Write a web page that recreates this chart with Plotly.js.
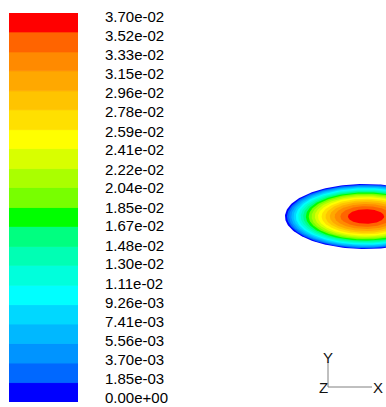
<!DOCTYPE html>
<html><head><meta charset="utf-8">
<script src="https://cdn.plot.ly/plotly-3.0.1.min.js"></script>
<style>html,body{margin:0;padding:0;background:#fff;overflow:hidden}#chart{width:386px;height:407px}</style>
</head><body><div id="chart"></div>
<script>
// contour levels (bottom -> top) and their labels
const levels = [0, 0.00185, 0.0037, 0.00556, 0.00741, 0.00926, 0.0111, 0.0130, 0.0148, 0.0167,
                0.0185, 0.0204, 0.0222, 0.0241, 0.0259, 0.0278, 0.0296, 0.0315, 0.0333, 0.0352, 0.0370];
const tickLabels = ['0.00e+00','1.85e-03','3.70e-03','5.56e-03','7.41e-03','9.26e-03','1.11e-02',
                    '1.30e-02','1.48e-02','1.67e-02','1.85e-02','2.04e-02','2.22e-02','2.41e-02',
                    '2.59e-02','2.78e-02','2.96e-02','3.15e-02','3.33e-02','3.52e-02','3.70e-02'];
// band colours (band k spans levels[k]..levels[k+1])
const bandColors = ['#0000ff','#0068ff','#0094ff','#00b8ff','#00d8ff','#00ffff','#00ffdc','#00ffb4',
                    '#00ff80','#00ff00','#78ff00','#aaff00','#d8ff00','#ffff00','#ffe000','#ffc400',
                    '#ffa800','#ff8a00','#ff6400','#ff0000'];
// normalized distance from the centre of the section at which each level is reached
const levelRadius = [1.00, 0.975, 0.949, 0.922, 0.894, 0.866, 0.837, 0.806, 0.775, 0.742,
                     0.707, 0.671, 0.632, 0.592, 0.548, 0.500, 0.447, 0.387, 0.316, 0.224];

const W = 386, H = 407;
const px = v => v / W, py = v => 1 - v / H;

const traces = [];
// colour legend bar
traces.push({
  type: 'bar', xaxis: 'x', yaxis: 'y',
  x: bandColors.map(() => 0),
  base: levels.slice(0, -1),
  y: levels.slice(1).map((v, i) => v - levels[i]),
  width: 1,
  marker: {color: bandColors, line: {width: 0.8, color: bandColors}},
  hoverinfo: 'skip', showlegend: false
});
// label axis carrier
traces.push({type: 'scatter', mode: 'markers', xaxis: 'x', yaxis: 'y2', x: [], y: [], showlegend: false, hoverinfo: 'skip'});
// contour bands as nested filled ellipses
const N = 240;
levelRadius.forEach((r, k) => {
  const xs = [], ys = [];
  for (let i = 0; i <= N; i++) {
    const t = 2 * Math.PI * i / N;
    xs.push(r * Math.cos(t)); ys.push(r * Math.sin(t));
  }
  traces.push({
    type: 'scatter', mode: 'lines', xaxis: 'x3', yaxis: 'y3',
    x: xs, y: ys, fill: 'toself', fillcolor: bandColors[k],
    line: {width: 0, color: bandColors[k]}, hoverinfo: 'skip', showlegend: false
  });
});

const cx = 366, cy = 216.5, ax = 81, by = 32.5;
const hid = {visible: false, fixedrange: true, showgrid: false, zeroline: false};
const FONT = 'Liberation Sans, Arial, sans-serif';
const layout = {
  width: W, height: H, margin: {l: 0, r: 0, t: 0, b: 0},
  paper_bgcolor: '#fff', plot_bgcolor: 'rgba(0,0,0,0)',
  barmode: 'overlay', showlegend: false,
  xaxis: Object.assign({}, hid, {domain: [px(9), px(78)], range: [-0.5, 0.5], anchor: 'y'}),
  yaxis: Object.assign({}, hid, {domain: [1 - 402 / H, 1 - 13 / H], range: [0, 0.037], anchor: 'x'}),
  yaxis2: {overlaying: 'y', side: 'right', anchor: 'x', range: [-0.000388, 0.037388], fixedrange: true,
           tickmode: 'array', tickvals: levels, ticktext: tickLabels, showgrid: false, zeroline: false,
           showline: false, ticks: '', ticklabelstandoff: 26,
           tickfont: {family: FONT, size: 15, color: '#000'}},
  xaxis3: Object.assign({}, hid, {domain: [0.5, 1], anchor: 'y3', range: [(0.5 * W - cx) / ax, (W - cx) / ax]}),
  yaxis3: Object.assign({}, hid, {domain: [0, 1], anchor: 'x3', range: [-(H - cy) / by, cy / by]}),
  shapes: [
    {type: 'line', xref: 'paper', yref: 'paper', x0: px(328), x1: px(328), y0: py(362), y1: py(387), line: {color: '#808080', width: 1}},
    {type: 'line', xref: 'paper', yref: 'paper', x0: px(328), x1: px(372), y0: py(387), y1: py(387), line: {color: '#808080', width: 1}}
  ],
  annotations: [
    {text: 'Y', xref: 'paper', yref: 'paper', x: px(327.5), y: py(357), showarrow: false, xanchor: 'center', yanchor: 'middle', font: {family: FONT, size: 15, color: '#111'}},
    {text: 'Z', xref: 'paper', yref: 'paper', x: px(323), y: py(387), showarrow: false, xanchor: 'center', yanchor: 'middle', font: {family: FONT, size: 15, color: '#111'}},
    {text: 'X', xref: 'paper', yref: 'paper', x: px(378), y: py(387.5), showarrow: false, xanchor: 'center', yanchor: 'middle', font: {family: FONT, size: 15, color: '#111'}}
  ]
};
Plotly.newPlot('chart', traces, layout, {staticPlot: true, displayModeBar: false});
</script>
</body></html>
